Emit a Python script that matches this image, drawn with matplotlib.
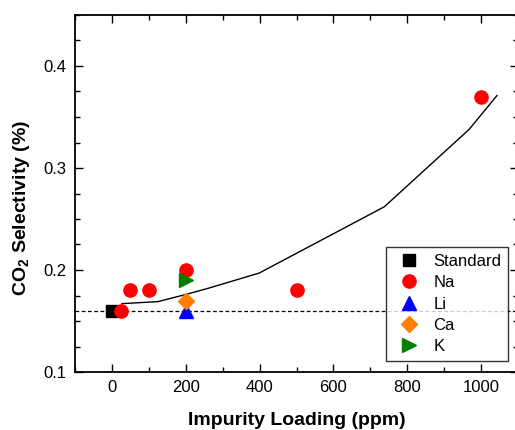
import matplotlib.pyplot as plt
from matplotlib.ticker import MultipleLocator

plt.rcParams['font.family'] = ['Liberation Sans', 'DejaVu Sans']
plt.rcParams['mathtext.fontset'] = 'custom'
plt.rcParams['mathtext.bf'] = 'Liberation Sans:bold'

# data
standard_x = [0]
standard_y = [0.16]
na_x = [25, 50, 100, 200, 500, 1000]
na_y = [0.16, 0.18, 0.18, 0.20, 0.18, 0.37]
li_x = [200]
li_y = [0.16]
ca_x = [200]
ca_y = [0.17]
k_x = [200]
k_y = [0.19]
fit_x = [27, 125, 200, 260, 399, 738, 968, 1043]
fit_y = [0.167, 0.169, 0.176, 0.182, 0.197, 0.262, 0.338, 0.371]
baseline = 0.16

fig = plt.figure(figsize=(5.15, 4.3), dpi=100)
ax = fig.add_axes([75 / 515, 1 - 372 / 430, 443 / 515, 357 / 430])

ax.axhline(baseline, color='black', linestyle=(0, (3, 2)), linewidth=0.9, zorder=1)
ax.plot(fit_x, fit_y, color='black', linewidth=1.0, zorder=2)

ax.plot(standard_x, standard_y, 's', color='black', markersize=8, label='Standard', zorder=3)
ax.plot(na_x, na_y, 'o', color='#ff0000', markersize=9.5, label='Na', zorder=3)
ax.plot(li_x, li_y, '^', color='#0000ff', markersize=10, label='Li', zorder=3)
ax.plot(ca_x, ca_y, 'D', color='#ff8000', markersize=8, label='Ca', zorder=3)
ax.plot(k_x, k_y, '>', color='#008000', markersize=10, label='K', zorder=3)

ax.set_xlim(-100, 1100)
ax.set_ylim(0.1, 0.45)
ax.xaxis.set_major_locator(MultipleLocator(200))
ax.xaxis.set_minor_locator(MultipleLocator(100))
ax.yaxis.set_major_locator(MultipleLocator(0.1))
ax.yaxis.set_minor_locator(MultipleLocator(0.025))
ax.tick_params(which='both', direction='in', top=True, right=True, labelsize=12, pad=6)
ax.tick_params(which='major', length=6, width=1)
ax.tick_params(which='minor', length=3.5, width=1)
for s in ax.spines.values():
    s.set_linewidth(1.3)

ax.set_xlabel('Impurity Loading (ppm)', fontsize=14, fontweight='bold', labelpad=12)
ax.set_ylabel(r'CO$_\mathbf{2}$ Selectivity (%)', fontsize=14, fontweight='bold')
ax.yaxis.set_label_coords(-0.097, 0.46)

leg = ax.legend(loc='lower right', bbox_to_anchor=(433 / 443, 11 / 357), borderaxespad=0,
                fontsize=12, frameon=True, fancybox=False, edgecolor='black',
                handletextpad=0.42, borderpad=0.4, labelspacing=0.38, handlelength=2.05)
leg.get_frame().set_linewidth(1.0)

fig.savefig('out.png', dpi=100)
